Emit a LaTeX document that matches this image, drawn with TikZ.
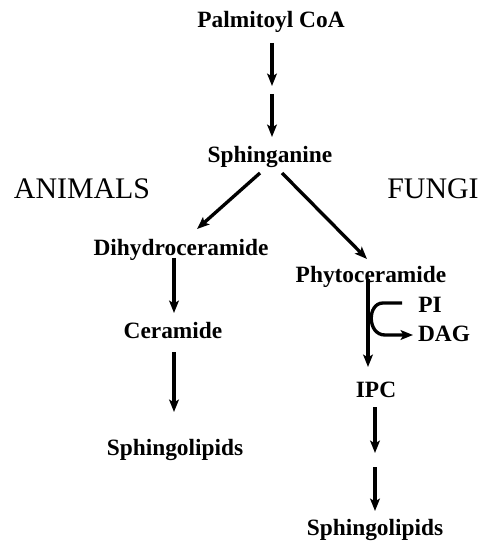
\documentclass[tikz,border=0pt]{standalone}
\usepackage{fontspec}
\setmainfont{Liberation Serif}
\usetikzlibrary{arrows.meta}
\begin{document}
\begin{tikzpicture}[x=0.02cm,y=-0.02cm,
  lbl/.style={font=\fontsize{13.3}{15}\selectfont\bfseries, inner sep=0pt},
  grp/.style={font=\fontsize{17}{19}\selectfont, inner sep=0pt},
  arr/.style={line width=1.9pt, -{Stealth[length=7pt,width=5.5pt,inset=1.5pt]}}]
\useasboundingbox (0,0) rectangle (482,543);
\node[lbl] (pal) at (271,22) {Palmitoyl CoA};
\node[lbl] (sph) at (270,157) {Sphinganine};
\node[grp] (ani) at (82,189) {ANIMALS};
\node[grp] (fun) at (433,189) {FUNGI};
\node[lbl] (dih) at (181,250) {Dihydroceramide};
\node[lbl] (phy) at (371,277) {Phytoceramide};
\node[lbl] (cer) at (173,331) {Ceramide};
\node[lbl] (sl1) at (175,450) {Sphingolipids};
\node[lbl] (pi) at (430,305) {PI};
\node[lbl] (dag) at (444,334) {DAG};
\node[lbl] (ipc) at (376,390) {IPC};
\node[lbl] (sl2) at (375,530) {Sphingolipids};
% coordinates
\coordinate (p1) at (272,43);
\coordinate (p2) at (272,86);
\coordinate (p3) at (272,94);
\coordinate (p4) at (272,137);
\coordinate (sL) at (260,173);
\coordinate (sR) at (282,173);
\coordinate (dL) at (197,229);
\coordinate (pR) at (367,259);
\coordinate (d1) at (174,258);
\coordinate (d2) at (174,313);
\coordinate (c1) at (174,352);
\coordinate (c2) at (174,412);
\coordinate (f1) at (368,279);
\coordinate (f2) at (368,367);
\coordinate (piS) at (402,303);
\coordinate (dagE) at (413,335);
\coordinate (i1) at (375,407);
\coordinate (i2) at (375,453);
\coordinate (i3) at (375,467);
\coordinate (i4) at (375,511);
\draw[arr] (p1) -- (p2);
\draw[arr] (p3) -- (p4);
\draw[arr] (sL) -- (dL);
\draw[arr] (sR) -- (pR);
\draw[arr] (d1) -- (d2);
\draw[arr] (c1) -- (c2);
\draw[arr] (f1) -- (f2);
\draw[arr] (piS) -- (383,303) .. controls (367,303) and (367,335) .. (385,335) -- (dagE);
\draw[arr] (i1) -- (i2);
\draw[arr] (i3) -- (i4);
\end{tikzpicture}
\end{document}
